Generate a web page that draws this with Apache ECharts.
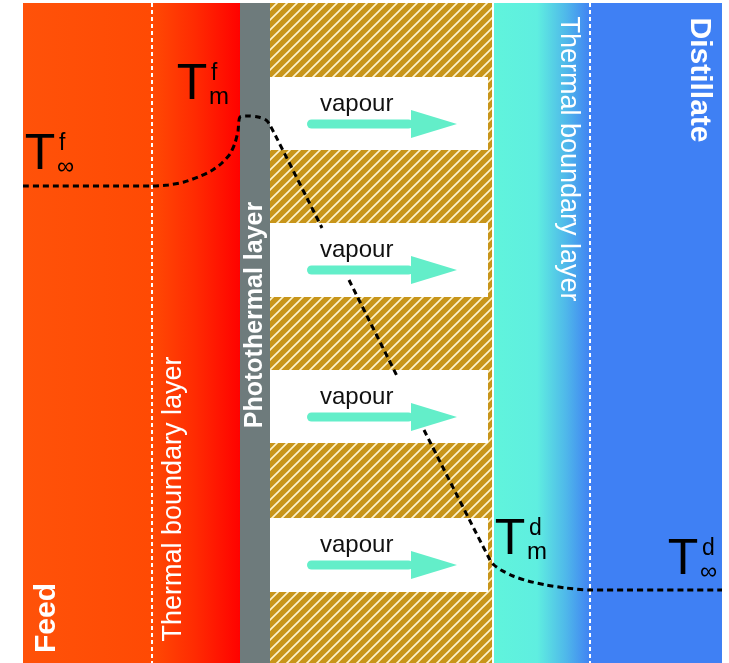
<!DOCTYPE html>
<html><head><meta charset="utf-8">
<script src="https://cdn.jsdelivr.net/npm/echarts@6/dist/echarts.min.js"></script>
<style>html,body{margin:0;padding:0;background:#fff}#c{width:729px;height:663px}</style>
</head><body><div id="c"></div>
<script>
// ---- diagram data (horizontal / vertical positions in diagram units) ----
const layerNames = ['Feed', 'Thermal boundary layer', 'Photothermal layer', 'Membrane', 'Thermal boundary layer', 'Distillate'];
const layerEdges = [23, 152, 240, 270, 493, 590, 722];
const diagramSpan = [3, 663];
const poreBands = [[77, 150], [223, 297], [370, 443], [518, 592]];
const poreLabel = 'vapour';
// temperature profile (null = hidden behind the vapour labels)
const profileX = [23, 152, 168, 184, 198, 211, 222, 230, 235, 238, 240, 248, 258, 266, 270, 322, null, 349, 397, null, 424, 490, 494, 501, 513, 528, 546, 566, 588, 722];
const profileY = [186, 186, 185, 182, 177, 171, 163, 154, 143, 131, 117, 116, 117, 120, 125, 228, null, 280, 376, null, 430, 560, 565, 570, 576, 581, 585, 588, 590, 590];
// temperature symbols: base, superscript, subscript, anchor
const tempSymbols = ['T', 'T', 'T', 'T'];
const tempSup = ['f', 'f', 'd', 'd'];
const tempSub = ['m', '\u221E', 'm', '\u221E'];
const tempAnchorX = [192, 40, 510, 683];
const tempAnchorY = [85, 155, 540, 560];
// rotated layer captions
const captionText = ['Feed', 'Thermal boundary layer', 'Photothermal layer', 'Thermal boundary layer', 'Distillate'];
const captionX = [47, 174, 255, 568, 699];
const captionY = [618, 499, 315, 159, 80];

const FONT = "'Liberation Sans', Arial, Helvetica, sans-serif";

// hatch pattern for the membrane
const hatch = document.createElement('canvas');
hatch.width = 10; hatch.height = 10;
(function () {
  const g = hatch.getContext('2d');
  g.fillStyle = '#C8951A'; g.fillRect(0, 0, 10, 10);
  g.strokeStyle = 'rgba(255,248,215,0.95)'; g.lineWidth = 1.6;
  g.beginPath();
  g.moveTo(-2, 12); g.lineTo(12, -2);
  g.moveTo(-2, 2); g.lineTo(2, -2);
  g.moveTo(8, 12); g.lineTo(12, 8);
  g.stroke();
})();

const LG = echarts.graphic.LinearGradient;
const layerFills = [
  new LG(0, 0, 1, 0, [{offset: 0, color: '#FF5209'}, {offset: 1, color: '#FF4A04'}]),
  new LG(0, 0, 1, 0, [{offset: 0, color: '#FF4A04'}, {offset: 0.5, color: '#FF2A02'}, {offset: 1, color: '#FF0200'}]),
  '#6E7B7C',
  {image: hatch, repeat: 'repeat'},
  new LG(0, 0, 1, 0, [{offset: 0, color: '#60F4DC'}, {offset: 0.45, color: '#5FEEE0'}, {offset: 0.75, color: '#4FB8EA'}, {offset: 1, color: '#4082F3'}]),
  '#3F80F4'
];

const chart = echarts.init(document.getElementById('c'), null, {renderer: 'canvas'});

const profileData = profileX.map((x, i) => x === null ? ['-', '-'] : [x, profileY[i]]);

chart.setOption({
  backgroundColor: '#ffffff',
  animation: false,
  grid: {left: 0, right: 0, top: 0, bottom: 0},
  xAxis: {type: 'value', min: 0, max: 729, show: false},
  yAxis: {type: 'value', min: 0, max: 663, inverse: true, show: false},
  series: [
    { // layers
      type: 'custom', z: 1, silent: true,
      data: layerNames.map((n, i) => [layerEdges[i], layerEdges[i + 1], i]),
      renderItem: function (params, api) {
        const i = api.value(2);
        const a = api.coord([api.value(0), diagramSpan[0]]);
        const b = api.coord([api.value(1), diagramSpan[1]]);
        let x0 = a[0], x1 = b[0];
        if (i === 3) x1 -= 1;      // thin white gap before the distillate side
        if (i === 4) x0 += 1;
        return {type: 'rect', shape: {x: x0, y: a[1], width: x1 - x0, height: b[1] - a[1]},
          style: {fill: layerFills[i]}};
      }
    },
    { // pores (white channels)
      type: 'custom', z: 2, silent: true,
      data: poreBands.map(b => [layerEdges[3], layerEdges[4], b[0], b[1]]),
      renderItem: function (params, api) {
        const a = api.coord([api.value(0), api.value(2)]);
        const b = api.coord([api.value(1), api.value(3)]);
        return {type: 'rect', shape: {x: a[0], y: a[1], width: b[0] - a[0] - 5, height: b[1] - a[1]},
          style: {fill: '#FFFFFF'}};
      }
    },
    { // boundary-layer dashed lines
      type: 'custom', z: 3, silent: true,
      data: [[layerEdges[1]], [layerEdges[5]]],
      renderItem: function (params, api) {
        const a = api.coord([api.value(0), diagramSpan[0]]);
        const b = api.coord([api.value(0), diagramSpan[1]]);
        return {type: 'line', shape: {x1: a[0], y1: a[1], x2: b[0], y2: b[1]},
          style: {stroke: '#FFFFFF', lineWidth: 2, lineDash: [4, 3]}};
      }
    },
    { // temperature profile
      type: 'line', z: 4, silent: true,
      data: profileData,
      showSymbol: false, symbol: 'none', smooth: 0.25, connectNulls: false,
      lineStyle: {color: '#000000', width: 3, type: [6, 4]}
    },
    { // vapour arrows + labels
      type: 'custom', z: 5, silent: true,
      data: poreBands.map(b => [b[0]]),
      renderItem: function (params, api) {
        const top = api.value(0);
        const tp = api.coord([320, top + 27]);
        const s0 = api.coord([307, top + 47]);
        const s1 = api.coord([413, top + 47]);
        const tip = api.coord([457, top + 47]);
        return {type: 'group', children: [
          {type: 'rect', shape: {x: s0[0], y: s0[1] - 4.5, width: s1[0] - s0[0], height: 9, r: 4.5},
            style: {fill: '#63EEC9'}},
          {type: 'polygon', shape: {points: [[s1[0] - 2, s1[1] - 14], [tip[0], tip[1]], [s1[0] - 2, s1[1] + 14]]},
            style: {fill: '#63EEC9'}},
          {type: 'text', x: tp[0], y: tp[1],
            style: {text: poreLabel, fill: '#111111', font: '24px ' + FONT, align: 'left', verticalAlign: 'middle'}}
        ]};
      }
    },
    { // rotated captions
      type: 'custom', z: 6, silent: true,
      data: captionText.map((t, i) => [captionX[i], captionY[i], i]),
      renderItem: function (params, api) {
        const i = api.value(2);
        const p = api.coord([api.value(0), api.value(1)]);
        const bold = (i === 0 || i === 2 || i === 4);
        const size = (i === 0 || i === 4) ? 30 : (i === 2 ? 25 : 27);
        const rot = (i >= 3) ? -Math.PI / 2 : Math.PI / 2;
        return {type: 'text', x: p[0], y: p[1], rotation: rot,
          style: {text: captionText[i], fill: '#FFFFFF', font: (bold ? 'bold ' : '') + size + 'px ' + FONT,
            align: 'center', verticalAlign: 'middle'}};
      }
    },
    { // temperature symbols
      type: 'custom', z: 7, silent: true,
      data: tempSymbols.map((t, i) => [tempAnchorX[i], tempAnchorY[i], i]),
      renderItem: function (params, api) {
        const i = api.value(2);
        const p = api.coord([api.value(0), api.value(1)]);
        return {type: 'group', children: [
          {type: 'text', x: p[0], y: p[1],
            style: {text: tempSymbols[i], fill: '#000', font: '50px ' + FONT, align: 'center', verticalAlign: 'middle'}},
          {type: 'text', x: p[0] + 19, y: p[1] - 11,
            style: {text: tempSup[i], fill: '#000', font: '23px ' + FONT, align: 'left', verticalAlign: 'middle'}},
          {type: 'text', x: p[0] + 17, y: p[1] + 12,
            style: {text: tempSub[i], fill: '#000', font: '24px ' + FONT, align: 'left', verticalAlign: 'middle'}}
        ]};
      }
    }
  ]
});
</script>
</body></html>
